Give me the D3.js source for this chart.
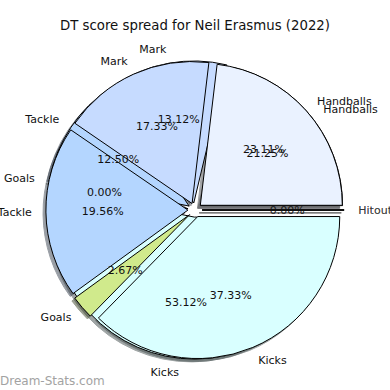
<!DOCTYPE html>
<html>
<head>
<meta charset="utf-8">
<script src="https://cdn.jsdelivr.net/npm/d3@7"></script>
<style>
  body { margin: 0; background: #fff; }
  text { font-family: "DejaVu Sans", sans-serif; }
</style>
</head>
<body>
<svg id="chart" width="390" height="390"></svg>
<script>
'use strict';

// orden de las porciones, en sentido antihorario desde las 3 en punto
var categorias = ["Handballs", "Mark", "Tackle", "Goals", "Kicks", "Hitout"];
var colores = ["#eaf2ff", "#c6dbff", "#b4d6ff", "#d0ea8c", "#d9ffff", "#e6e6e6"];

// porcentajes de cada temporada / serie
var serieArriba = [23.11, 17.33, 19.56, 2.67, 37.33, 0.00];
var serieAbajo = [21.25, 13.12, 12.50, 0.00, 53.12, 0.00];

var titulo = "DT score spread for Neil Erasmus (2022)";

var svg = d3.select("#chart"),
  cx = 195, cy = 210, r = 142,
  explode = 0.05 * r,
  sombra = 0.02 * r;

svg.append("text")
  .attr("x", 195).attr("y", 30)
  .attr("text-anchor", "middle")
  .attr("font-size", 13.3)
  .attr("fill", "#111")
  .text(titulo);

var pie = d3.pie()
  .sort(null)
  .value(function (d) { return d; })
  .startAngle(Math.PI / 2)
  .endAngle(Math.PI / 2 - 2 * Math.PI);

var arc = d3.arc().innerRadius(0).outerRadius(r);

function prepara(valores) {
  return pie(valores).map(function (p, i) {
    var a = (p.startAngle + p.endAngle) / 2;
    p.ox = Math.sin(a) * explode;
    p.oy = -Math.cos(a) * explode;
    p.mid = a;
    p.color = colores[i];
    p.cat = categorias[i];
    return p;
  });
}

var abajo = prepara(serieAbajo),
  arriba = prepara(serieArriba);

var g = svg.append("g").attr("transform", "translate(" + cx + "," + cy + ")");

function oscuro(c) {
  var k = d3.rgb(c);
  return d3.rgb(k.r * 0.3, k.g * 0.3, k.b * 0.3).toString();
}

// sombras primero (quedan debajo de todo)
[abajo, arriba].forEach(function (datos) {
  g.append("g").selectAll("path")
    .data(datos)
    .enter().append("path")
    .attr("d", arc)
    .attr("transform", function (d) {
      return "translate(" + (d.ox - sombra) + "," + (d.oy + sombra) + ")";
    })
    .attr("fill", function (d) { return oscuro(d.color); })
    .attr("stroke", function (d) { return oscuro(d.color); })
    .attr("stroke-width", 1)
    .attr("opacity", 0.5);
});

[abajo, arriba].forEach(function (datos) {
  g.append("g").selectAll("path")
    .data(datos)
    .enter().append("path")
    .attr("d", arc)
    .attr("transform", function (d) { return "translate(" + d.ox + "," + d.oy + ")"; })
    .attr("fill", function (d) { return d.color; })
    .attr("stroke", "#000")
    .attr("stroke-width", 1)
    .attr("stroke-linejoin", "miter");
});

[abajo, arriba].forEach(function (datos) {
  var t = g.append("g");
  t.selectAll(".lab")
    .data(datos)
    .enter().append("text")
    .attr("class", "lab")
    .attr("x", function (d) { return d.ox + Math.sin(d.mid) * r * 1.1; })
    .attr("y", function (d) { return d.oy - Math.cos(d.mid) * r * 1.1; })
    .attr("dy", "0.35em")
    .attr("text-anchor", function (d) {
      return (d.ox + Math.sin(d.mid) * r * 1.1) > 0 ? "start" : "end";
    })
    .attr("font-size", 11)
    .attr("fill", "#111")
    // las dos etiquetas de Hitout caen en el mismo sitio
    .attr("fill-opacity", function (d) { return d.cat === "Hitout" ? 0.6 : 1; })
    .text(function (d) { return d.cat; });

  t.selectAll(".pct")
    .data(datos)
    .enter().append("text")
    .attr("class", "pct")
    .attr("x", function (d) { return d.ox + Math.sin(d.mid) * r * 0.6; })
    .attr("y", function (d) { return d.oy - Math.cos(d.mid) * r * 0.6; })
    .attr("dy", "0.35em")
    .attr("text-anchor", "middle")
    .attr("font-size", 11)
    .attr("fill", "#111")
    .attr("fill-opacity", function (d) { return d.cat === "Hitout" ? 0.6 : 1; })
    .text(function (d) { return d.value.toFixed(2) + "%"; });
});

svg.append("text")
  .attr("x", 0).attr("y", 385)
  .attr("font-size", 12)
  .attr("fill", "#999")
  .attr("opacity", 0.9)
  .text("Dream-Stats.com");
</script>
</body>
</html>
